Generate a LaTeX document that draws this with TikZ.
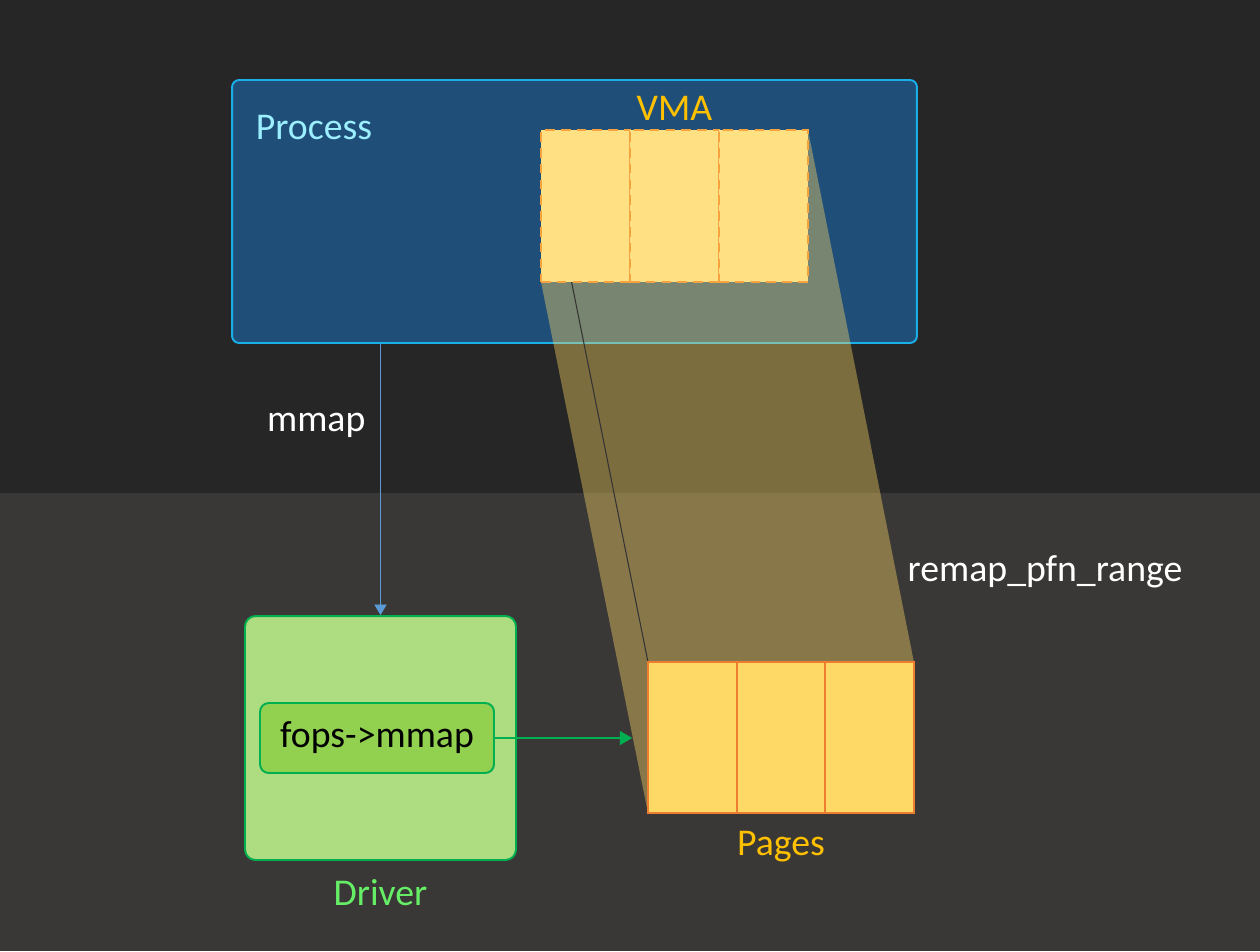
\documentclass[tikz,border=0pt]{standalone}
\usepackage{fontspec}
\setmainfont{Carlito}
\usetikzlibrary{
    positioning,
    arrows.meta,
    backgrounds
}

\definecolor{bgtop}{HTML}{262626}
\definecolor{bgbottom}{HTML}{3A3836}
\definecolor{procfill}{HTML}{1F4E79}
\definecolor{procline}{HTML}{1AAFE8}
\definecolor{proctext}{HTML}{9BEFFF}
\definecolor{pagefill}{HTML}{FFD966}
\definecolor{vmafill}{HTML}{FFE083}
\definecolor{pageline}{HTML}{ED7D31}
\definecolor{vmaline}{HTML}{F4A33E}
\definecolor{gold}{HTML}{FFC000}
\definecolor{drvfill}{HTML}{AEDC80}
\definecolor{fopsfill}{HTML}{92D050}
\definecolor{drvline}{HTML}{00B050}
\definecolor{drvtext}{HTML}{66EE66}
\definecolor{mmapblue}{HTML}{5B9BD5}

\begin{document}
\begin{tikzpicture}[x=0.02cm, y=-0.02cm]

    % --- Estilos ---
    \tikzset{
        lbl/.style={font=\fontsize{21.5}{26}\selectfont},
        processbox/.style={draw=procline, fill=procfill, line width=1.1pt,
            rounded corners=4pt, minimum width=13.7cm, minimum height=5.26cm},
        vmacell/.style={draw=vmaline, fill=vmafill, line width=1.1pt, outer sep=0pt,
            dash pattern=on 5.5pt off 3.5pt, minimum width=1.78cm, minimum height=3.04cm},
        pagecell/.style={draw=pageline, fill=pagefill, line width=1.1pt, outer sep=0pt,
            minimum width=1.773cm, minimum height=3.02cm},
        driverbox/.style={draw=drvline, fill=drvfill, line width=1.1pt,
            rounded corners=6pt, minimum width=5.42cm, minimum height=4.88cm},
        fopsbox/.style={draw=drvline, fill=fopsfill, line width=1.1pt,
            rounded corners=5pt, minimum width=4.68cm, minimum height=1.4cm, lbl},
        mmaparrow/.style={-{Triangle[length=6pt, width=7pt]}, mmapblue, line width=0.5pt},
        fopsarrow/.style={-{Triangle[length=7pt, width=8pt]}, drvline, line width=0.6pt}
    }

    % --- Fundo ---
    \fill[bgtop] (0,0) rectangle (1260,493);
    \fill[bgbottom] (0,493) rectangle (1260,951);
    \useasboundingbox (0,0) rectangle (1260,951);

    % --- Processo ---
    \node[processbox] (process) at (574.5,211.5) {};
    \node[lbl, text=proctext] (process_label) at (314,128) {Process};

    % --- Paginas ---
    \node[pagecell] (pg1) at (692.3,737.5) {};
    \node[pagecell, right=0pt of pg1] (pg2) {};
    \node[pagecell, right=0pt of pg2] (pg3) {};

    % --- VMA (cantos) ---
    \coordinate (vma_nw) at (541,130);
    \coordinate (vma_ne) at (808,130);
    \coordinate (vma_sw) at (541,282);

    % --- Projecao VMA -> Paginas ---
    \fill[pagefill, fill opacity=0.4]
        (vma_nw) -- (vma_ne) -- (pg3.north east) -- (pg3.south east)
        -- (pg1.south west) -- (vma_sw) -- cycle;
    \draw[black!80, line width=0.6pt] (vma_nw) -- (pg1.north west);

    \node[vmacell, anchor=north west] (vma1) at (vma_nw) {};
    \node[vmacell, right=0pt of vma1] (vma2) {};
    \node[vmacell, right=0pt of vma2] (vma3) {};
    \node[lbl, text=gold, above=2pt of vma2] (vma_label) {VMA};

    % redesenha as paginas por cima
    \node[pagecell] at (pg1) {};
    \node[pagecell] at (pg2) {};
    \node[pagecell] at (pg3) {};
    \node[lbl, text=gold, below=7pt of pg2] (pages_label) {Pages};
    \node[lbl, text=white] (remap_label) at (1045,572) {remap\_pfn\_range};

    % --- Driver ---
    \node[driverbox] (driver) at (380.5,738) {};
    \node[fopsbox] (fops) at (377,738) {fops->mmap};
    \node[lbl, text=drvtext, below=7pt of driver] (driver_label) {Driver};

    % --- Setas ---
    \draw[mmaparrow] (process.south -| driver.north) -- (driver.north)
        node[pos=0.3, left=5pt, lbl, text=white] (mmap_label) {mmap};
    \draw[fopsarrow, shorten >=9pt] (fops.east) -- (fops.east -| pg1.west);

\end{tikzpicture}
\end{document}
